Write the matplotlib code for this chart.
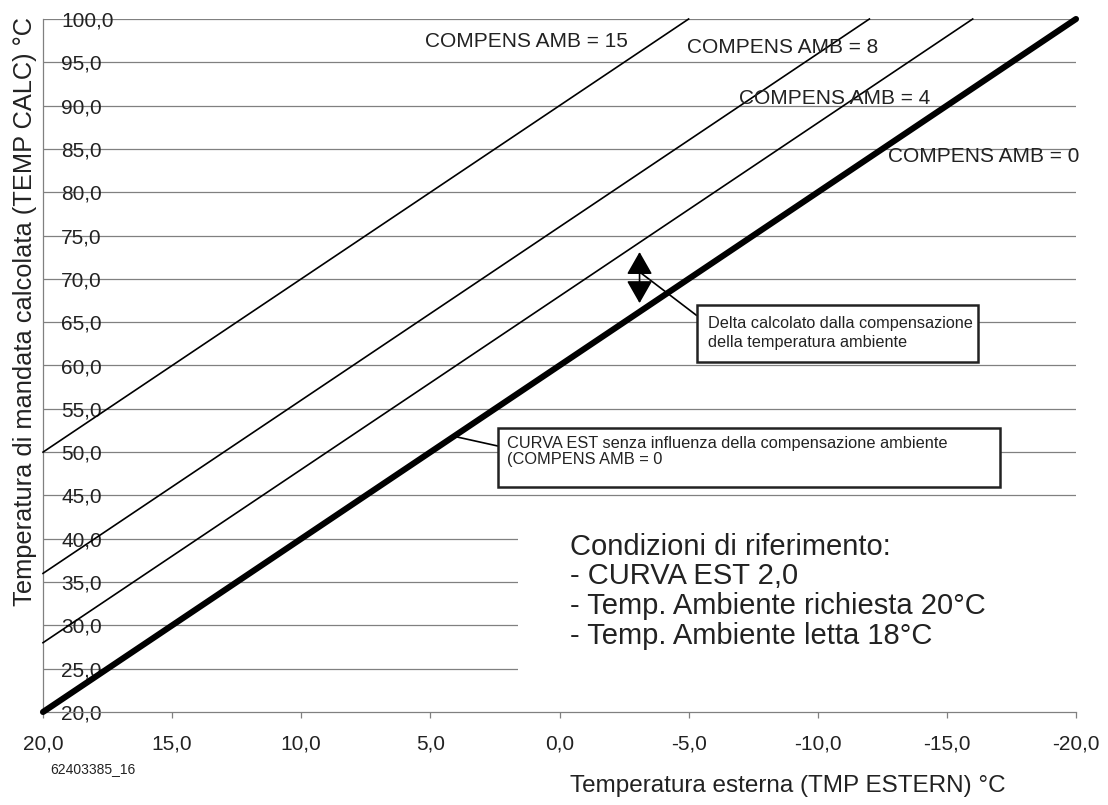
import matplotlib
matplotlib.use("Agg")
import matplotlib.pyplot as plt
from matplotlib.patches import Rectangle

plt.rcParams["font.family"] = ["Liberation Sans", "DejaVu Sans"]

# outdoor temperature (°C) and calculated flow temperature per room compensation
x_amb0 = [20, 15, 10, 5, 0, -5, -10, -15, -20]
y_amb0 = [20, 30, 40, 50, 60, 70, 80, 90, 100]
x_amb4 = [20, 15, 10, 5, 0, -5, -10, -16]
y_amb4 = [28, 38, 48, 58, 68, 78, 88, 100]
x_amb8 = [20, 15, 10, 5, 0, -5, -10, -12]
y_amb8 = [36, 46, 56, 66, 76, 86, 96, 100]
x_amb15 = [20, 15, 10, 5, 0, -5]
y_amb15 = [50, 60, 70, 80, 90, 100]

x_ticks = [20, 15, 10, 5, 0, -5, -10, -15, -20]
y_ticks = [20, 25, 30, 35, 40, 45, 50, 55, 60, 65, 70, 75, 80, 85, 90, 95, 100]

curve_labels = ["COMPENS AMB = 15", "COMPENS AMB = 8", "COMPENS AMB = 4", "COMPENS AMB = 0"]
conditions = ("Condizioni di riferimento:\n- CURVA EST 2,0\n"
              "- Temp. Ambiente richiesta 20°C\n- Temp. Ambiente letta 18°C")

_GRID = "#808080"
_TXT = "#222222"

fig = plt.figure(figsize=(11.08, 8.05), dpi=100)
ax = fig.add_axes([43 / 1108, 1 - 712 / 805, (1076 - 43) / 1108, (712 - 19) / 805])
ax.set_xlim(20, -20)
ax.set_ylim(20, 100)

for y in y_ticks[1:]:
    ax.axhline(y, color=_GRID, lw=0.9, zorder=1)

# white area behind the reference conditions
ax.add_patch(Rectangle((1.6, 20.6), -22.0, 23.6, facecolor="white", edgecolor="none", zorder=2))

for xs, ys in [(x_amb15, y_amb15), (x_amb8, y_amb8), (x_amb4, y_amb4)]:
    ax.plot(xs, ys, color="black", lw=1.2, zorder=3, clip_on=False)
ax.plot(x_amb0, y_amb0, color="black", lw=4.4, zorder=3, clip_on=False, solid_capstyle="round")

for spine in ["top", "right"]:
    ax.spines[spine].set_visible(False)
for spine in ["left", "bottom"]:
    ax.spines[spine].set_color(_GRID)
    ax.spines[spine].set_linewidth(0.9)

ax.set_xticks(x_ticks)
ax.set_xticklabels([f"{v:.1f}".replace(".", ",") for v in x_ticks], fontsize=15, color=_TXT)
ax.set_yticks(y_ticks)
ax.set_yticklabels([f"{v:.1f}".replace(".", ",") for v in y_ticks], fontsize=15, color=_TXT)
ax.tick_params(axis="x", direction="out", length=4, width=0.9, color=_GRID, pad=12)
ax.tick_params(axis="y", length=0, pad=-13)
for lbl in ax.get_yticklabels():
    lbl.set_horizontalalignment("left")

# curve labels
label_pos = [(5.21, 97.4), (-4.94, 96.7), (-6.95, 90.8), (-12.72, 84.1)]
for (tx, ty), txt in zip(label_pos, curve_labels):
    ax.text(tx, ty, txt, fontsize=15, ha="left", va="center", color=_TXT, zorder=4)

# delta arrow + callout
ax.annotate("", xy=(-3.1, 73.1), xytext=(-3.1, 67.2),
            arrowprops=dict(arrowstyle="<|-|>,head_length=0.7,head_width=0.4",
                            mutation_scale=20, color="black", lw=1.2,
                            shrinkA=0, shrinkB=0), zorder=5)
ax.plot([-3.1, -5.3], [70.8, 65.8], color="black", lw=1.2, zorder=5)
ax.add_patch(Rectangle((-5.32, 60.4), -10.9, 6.6, facecolor="white", edgecolor=_TXT,
                       lw=1.8, zorder=6))
ax.text(-5.75, 63.75, "Delta calcolato dalla compensazione\ndella temperatura ambiente",
        fontsize=11.7, ha="left", va="center", color=_TXT, zorder=7, linespacing=1.38)

# base curve callout
ax.plot([3.97, 2.38], [51.75, 50.7], color="black", lw=1.2, zorder=5)
ax.add_patch(Rectangle((2.38, 46.0), -19.44, 6.8, facecolor="white", edgecolor=_TXT,
                       lw=1.8, zorder=6))
ax.text(2.03, 50.1, "CURVA EST senza influenza della compensazione ambiente\n(COMPENS AMB = 0",
        fontsize=11.8, ha="left", va="center", color=_TXT, zorder=7, linespacing=1.08)

ax.text(-0.4, 40.7, conditions, fontsize=21, ha="left", va="top", color=_TXT,
        zorder=7, linespacing=1.08)

fig.text(788 / 1108, 1 - 786 / 805, "Temperatura esterna (TMP ESTERN) °C",
         fontsize=17.5, ha="center", va="center", color=_TXT)
fig.text(25 / 1108, 1 - 312 / 805, "Temperatura di mandata calcolata (TEMP CALC) °C",
         fontsize=18.3, ha="center", va="center", rotation=90, color=_TXT)
fig.text(50 / 1108, 1 - 769 / 805, "62403385_16", fontsize=10, ha="left", va="center",
         color=_TXT)

fig.savefig("out.png", dpi=100)
